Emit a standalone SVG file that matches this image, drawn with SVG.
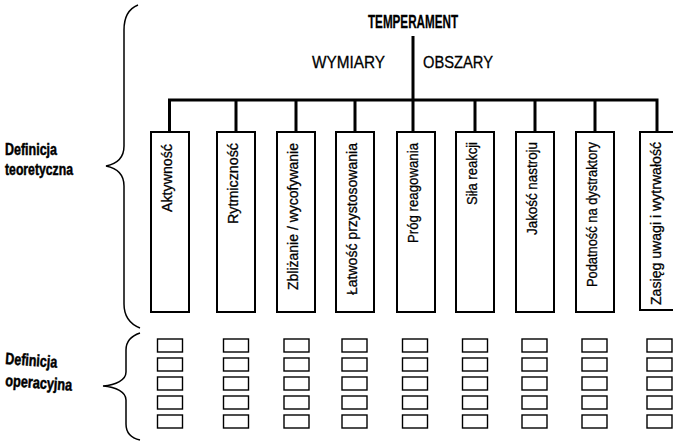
<svg xmlns="http://www.w3.org/2000/svg" width="673" height="441" viewBox="0 0 673 441">
<style>
text{font-family:"Liberation Sans",Arial,sans-serif;fill:#000}
.v{font-size:15.5px;stroke:#000;stroke-width:0.3}
.h{font-size:17px;stroke:#000;stroke-width:0.3}
.b{font-size:17.5px;font-weight:bold;stroke:#000;stroke-width:0.3}
.lbl{font-size:16.5px;font-weight:bold;stroke:#000;stroke-width:0.5}
.box{fill:#fff;stroke:#000;stroke-width:2}
.sb{fill:#fff;stroke:#000;stroke-width:1.4}
.ln{fill:none;stroke:#000;stroke-width:3}
.br{fill:none;stroke:#000;stroke-width:1.5}
</style>
<defs>
<g id="col">
<rect class="sb" x="-12.5" y="339" width="25" height="13"/>
<rect class="sb" x="-12.5" y="358" width="25" height="13"/>
<rect class="sb" x="-12.5" y="377" width="25" height="13"/>
<rect class="sb" x="-12.5" y="396" width="25" height="13"/>
<rect class="sb" x="-12.5" y="415" width="25" height="13"/>
</g>
</defs>
<rect width="673" height="441" fill="#fff"/>
<g id="title">
<text class="b" x="368" y="28" textLength="90" lengthAdjust="spacingAndGlyphs">TEMPERAMENT</text>
<text class="h" x="312" y="68" textLength="73" lengthAdjust="spacingAndGlyphs">WYMIARY</text>
<text class="h" x="423" y="68" textLength="70" lengthAdjust="spacingAndGlyphs">OBSZARY</text>
</g>
<g id="connectors">
<path class="ln" d="M413,36 V100 M168,100 H657 M169.5,98.5 V132 M236,100 V132 M296,100 V132 M355,100 V132 M413,100 V132 M475,100 V132 M535,100 V132 M595,100 V132 M657,98.5 V132"/>
</g>
<g id="n1"><rect class="box" x="151" y="132" width="38" height="180"/><text class="v" transform="translate(172,212) rotate(-90)" textLength="68" lengthAdjust="spacingAndGlyphs">Aktywność</text></g>
<g id="n2"><rect class="box" x="217" y="132" width="38" height="180"/><text class="v" transform="translate(238,224) rotate(-90)" textLength="81" lengthAdjust="spacingAndGlyphs">Rytmiczność</text></g>
<g id="n3"><rect class="box" x="277" y="132" width="38" height="180"/><text class="v" transform="translate(298,290) rotate(-90)" textLength="147" lengthAdjust="spacingAndGlyphs">Zbliżanie / wycofywanie</text></g>
<g id="n4"><rect class="box" x="336" y="132" width="38" height="180"/><text class="v" transform="translate(357,295) rotate(-90)" textLength="152" lengthAdjust="spacingAndGlyphs">Łatwość przystosowania</text></g>
<g id="n5"><rect class="box" x="397" y="132" width="38" height="180"/><text class="v" transform="translate(418,243) rotate(-90)" textLength="100" lengthAdjust="spacingAndGlyphs">Próg reagowania</text></g>
<g id="n6"><rect class="box" x="456" y="132" width="38" height="180"/><text class="v" transform="translate(477,205) rotate(-90)" textLength="63" lengthAdjust="spacingAndGlyphs">Siła reakcji</text></g>
<g id="n7"><rect class="box" x="516" y="132" width="38" height="180"/><text class="v" transform="translate(537,235) rotate(-90)" textLength="93" lengthAdjust="spacingAndGlyphs">Jakość nastroju</text></g>
<g id="n8"><rect class="box" x="576" y="132" width="38" height="180"/><text class="v" transform="translate(597,287) rotate(-90)" textLength="145" lengthAdjust="spacingAndGlyphs">Podatność na dystraktory</text></g>
<g id="n9"><rect class="box" x="640" y="132" width="38" height="178"/><text class="v" transform="translate(661,305) rotate(-90)" textLength="163" lengthAdjust="spacingAndGlyphs">Zasięg uwagi i wytrwałość</text></g>
<g id="ops">
<use href="#col" x="170"/>
<use href="#col" x="236"/>
<use href="#col" x="296.5"/>
<use href="#col" x="354.5"/>
<use href="#col" x="415"/>
<use href="#col" x="475"/>
<use href="#col" x="534.5"/>
<use href="#col" x="594.5"/>
<use href="#col" x="659.5"/>
</g>
<g id="brace-theory">
<path class="br" d="M138,5 C128,9 124,18 124,30 V146 C124,158 116,164 106,166 C116,168 124,174 124,186 V304 C124,316 130,324 140,328"/>
<text class="lbl" x="5" y="155" textLength="52" lengthAdjust="spacingAndGlyphs">Definicja</text>
<text class="lbl" x="5" y="175" textLength="68" lengthAdjust="spacingAndGlyphs">teoretyczna</text>
</g>
<g id="brace-oper">
<path class="br" d="M140,333 C131,336 126,341 126,350 V372 C126,380 116,385 103,386 C116,387 126,392 126,400 V424 C126,433 131,438 140,440"/>
<text class="lbl" x="5" y="364" textLength="52" lengthAdjust="spacingAndGlyphs" transform="rotate(4 5 364)">Definicja</text>
<text class="lbl" x="5" y="386" textLength="67" lengthAdjust="spacingAndGlyphs" transform="rotate(4 5 386)">operacyjna</text>
</g>
</svg>
